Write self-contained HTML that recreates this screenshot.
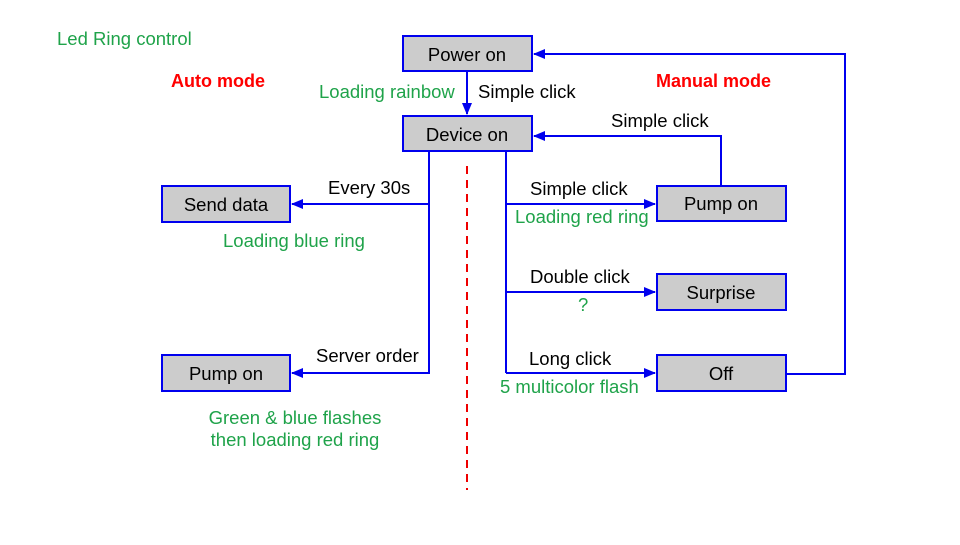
<!DOCTYPE html>
<html><head><style>
body{margin:0;width:960px;height:540px;background:#fff;overflow:hidden}
svg text{font-family:"Liberation Sans",Arial,sans-serif;font-size:18.5px}
.g{fill:#1fa34a}.k{fill:#000}.r{fill:#f00;font-weight:bold;font-size:18px}
</style></head><body>
<svg width="960" height="540" viewBox="0 0 960 540">
<defs><marker id="a" markerWidth="12" markerHeight="10" refX="11" refY="5" orient="auto" markerUnits="userSpaceOnUse"><path d="M0,0L12,5L0,10z" fill="#0000ee"/></marker></defs>
<g fill="#cccccc" stroke="#0000ee" stroke-width="2">
<rect x="403" y="36" width="129" height="35"/>
<rect x="403" y="116" width="129" height="35"/>
<rect x="162" y="186" width="128" height="36"/>
<rect x="162" y="355" width="128" height="36"/>
<rect x="657" y="186" width="129" height="35"/>
<rect x="657" y="274" width="129" height="36"/>
<rect x="657" y="355" width="129" height="36"/>
</g>
<g stroke="#0000ee" stroke-width="2" fill="none">
<path d="M467 71V114" marker-end="url(#a)"/>
<path d="M429 151V373"/>
<path d="M430 204H292" marker-end="url(#a)"/>
<path d="M430 373H292" marker-end="url(#a)"/>
<path d="M506 151V373"/>
<path d="M506 204H655" marker-end="url(#a)"/>
<path d="M506 292H655" marker-end="url(#a)"/>
<path d="M506 373H655" marker-end="url(#a)"/>
<path d="M721 186V136H534" marker-end="url(#a)"/>
<path d="M786 374H845V54H534" marker-end="url(#a)"/>
</g>
<path d="M467 166V490" stroke="#e00" stroke-width="2" stroke-dasharray="8,6"/>
<g text-anchor="middle" class="k">
<text x="467" y="61">Power on</text>
<text x="467" y="141">Device on</text>
<text x="226" y="211">Send data</text>
<text x="226" y="380">Pump on</text>
<text x="721" y="210">Pump on</text>
<text x="721" y="299">Surprise</text>
<text x="721" y="380">Off</text>
</g>
<text x="57" y="45" class="g">Led Ring control</text>
<text x="171" y="87" class="r">Auto mode</text>
<text x="656" y="87" class="r">Manual mode</text>
<text x="319" y="98" class="g">Loading rainbow</text>
<text x="478" y="98" class="k">Simple click</text>
<text x="611" y="127" class="k">Simple click</text>
<text x="328" y="194" class="k">Every 30s</text>
<text x="223" y="247" class="g">Loading blue ring</text>
<text x="316" y="362" class="k">Server order</text>
<text x="295" y="424" class="g" text-anchor="middle">Green &amp; blue flashes</text>
<text x="295" y="446" class="g" text-anchor="middle">then loading red ring</text>
<text x="530" y="195" class="k">Simple click</text>
<text x="515" y="223" class="g">Loading red ring</text>
<text x="530" y="283" class="k">Double click</text>
<text x="578" y="311" class="g">?</text>
<text x="529" y="365" class="k">Long click</text>
<text x="500" y="393" class="g">5 multicolor flash</text>
</svg>
</body></html>
